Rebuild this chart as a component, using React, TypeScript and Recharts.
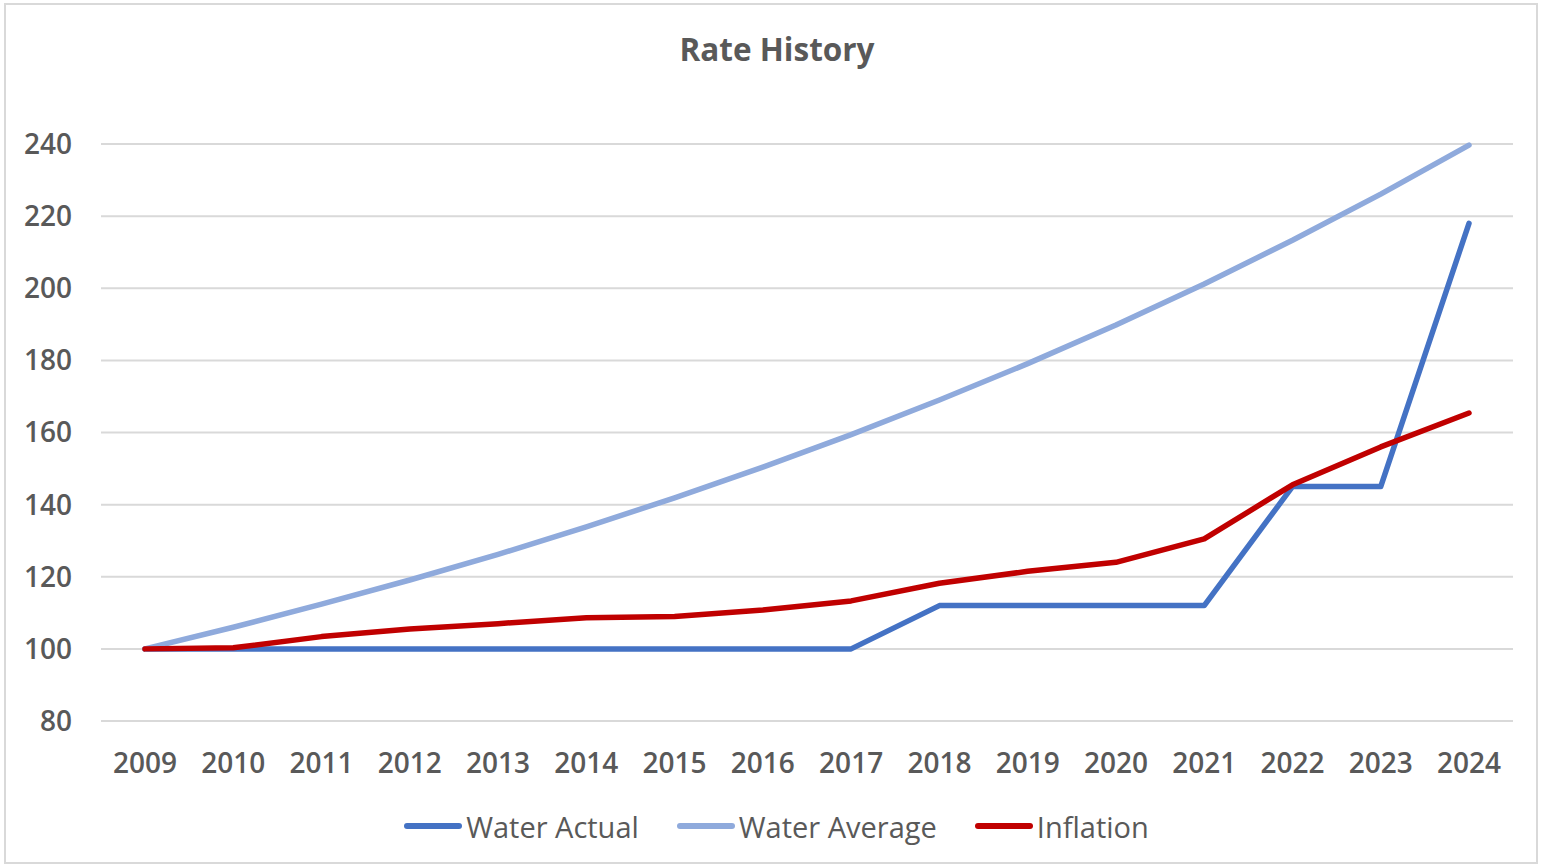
import { LineChart, Line, XAxis, YAxis, CartesianGrid, Legend } from 'recharts';

const years = ['2009', '2010', '2011', '2012', '2013', '2014', '2015', '2016', '2017', '2018', '2019', '2020', '2021', '2022', '2023', '2024'];
const waterActual = [100, 100, 100, 100, 100, 100, 100, 100, 100, 112, 112, 112, 112, 145, 145, 218];
const waterAverage = [100, 106, 112.4, 119.1, 126.2, 133.8, 141.9, 150.4, 159.4, 169, 179.1, 189.8, 201.2, 213.3, 226.1, 239.7];
const inflation = [100, 100.3, 103.4, 105.5, 107, 108.6, 109, 110.8, 113.3, 118.2, 121.5, 124, 130.5, 145.5, 156, 165.4];
const yTicks = [80, 100, 120, 140, 160, 180, 200, 220, 240];

const SERIES = [
    { key: 'actual', name: 'Water Actual', color: '#4472C4' },
    { key: 'average', name: 'Water Average', color: '#8FAADC' },
    { key: 'inflation', name: 'Inflation', color: '#C00000' },
];

const data = years.map((y, i) => ({ year: y, actual: waterActual[i], average: waterAverage[i], inflation: inflation[i] }));

const FONT = '"Open Sans", "Noto Sans", sans-serif';
const GREY = '#595959';

function LegendBox() {
    return (
        <div style={{ display: 'flex', justifyContent: 'center', alignItems: 'center', gap: 38, height: 50, marginLeft: 40, fontFamily: FONT, fontSize: 29, color: GREY }}>
            {SERIES.map(s => (
                <div key={s.key} style={{ display: 'flex', alignItems: 'center', gap: 4 }}>
                    <svg width={58} height={10}>
                        <line x1={3} y1={5} x2={55} y2={5} stroke={s.color} strokeWidth={6} strokeLinecap="round" />
                    </svg>
                    <span>{s.name}</span>
                </div>
            ))}
        </div>
    );
}

export default function App() {
    return (
        <div style={{ position: 'absolute', left: 0, top: 0, width: 1542, height: 868, background: '#fff' }}>
            {/* frame */}
            <div style={{ position: 'absolute', left: 4, top: 3, width: 1534, height: 861, border: '2px solid #d9d9d9', boxSizing: 'border-box' }} />
            <div style={{ position: 'absolute', top: 27, left: 4, width: 1546, textAlign: 'center', fontFamily: FONT, fontWeight: 700, fontSize: 31.5, color: GREY }}>
                Rate History
            </div>
            <LineChart width={1542} height={868} data={data} margin={{ top: 144, right: 29, bottom: 17, left: 0 }}>
                <CartesianGrid vertical={false} stroke="#d9d9d9" strokeWidth={2} />
                <XAxis dataKey="year" axisLine={false} tickLine={false} tickSize={0} tickMargin={32} height={80}
                    padding={{ left: 44, right: 44 }} interval={0}
                    tick={{ fill: GREY, fontSize: 28, fontWeight: 600, fontFamily: FONT }} />
                <YAxis domain={[80, 240]} ticks={yTicks} axisLine={false} tickLine={false} tickSize={0} tickMargin={29} width={101}
                    tick={{ fill: GREY, fontSize: 28, fontWeight: 600, fontFamily: FONT }} />
                <Legend verticalAlign="bottom" height={50} content={<LegendBox />} />
                {SERIES.map(s => (
                    <Line key={s.key} type="linear" dataKey={s.key} name={s.name} stroke={s.color} strokeWidth={5.5}
                        strokeLinecap="round" strokeLinejoin="round" dot={false} activeDot={false} isAnimationActive={false} />
                ))}
            </LineChart>
        </div>
    );
}
